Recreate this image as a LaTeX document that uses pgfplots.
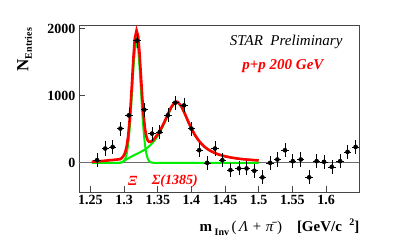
\documentclass[border=0pt]{standalone}
\usepackage{fontspec}
\setmainfont{Liberation Serif}
\usepackage{pgfplots}
\pgfplotsset{compat=1.18}
\definecolor{fitred}{RGB}{255,0,0}
\definecolor{fitgreen}{RGB}{0,238,0}
\definecolor{axgray}{RGB}{70,70,70}

\pgfplotstableread{
x y ex ey
1.2598 40 0.0055 105
1.2720 213 0.0055 105
1.2830 237 0.0055 105
1.2945 510 0.0055 105
1.3070 707 0.0055 105
1.3190 1818 0.0055 105
1.3300 791 0.0055 105
1.3415 436 0.0055 105
1.3530 459 0.0055 105
1.3650 707 0.0055 105
1.3760 895 0.0055 105
1.3890 855 0.0055 105
1.4000 510 0.0055 105
1.4116 188 0.0055 105
1.4235 0 0.0055 105
1.4350 213 0.0055 105
1.4460 40 0.0055 105
1.4580 -108 0.0055 105
1.4705 -83 0.0055 105
1.4820 -83 0.0055 105
1.4935 -118 0.0055 105
1.5055 -216 0.0055 105
1.5170 0 0.0055 105
1.5277 50 0.0055 105
1.5390 188 0.0055 105
1.5506 25 0.0055 105
1.5625 50 0.0055 105
1.5750 -216 0.0055 105
1.5860 25 0.0055 105
1.5970 15 0.0055 105
1.6086 -59 0.0055 105
1.6210 25 0.0055 105
1.6320 163 0.0055 105
1.6440 237 0.0055 105
}\datatable

\pgfplotstableread{
x y
1.252 0
1.290 0
1.295 2
1.298 11
1.300 28
1.302 66
1.304 140
1.306 270
1.308 474
1.310 753
1.312 1087
1.314 1422
1.316 1686
1.3185 1820
1.321 1686
1.323 1422
1.325 1087
1.327 753
1.329 474
1.331 270
1.333 140
1.335 66
1.337 28
1.339 11
1.342 2
1.345 0
1.500 0
}\xitable

\pgfplotstableread{
x y
1.252 0
1.294 0
1.297 12
1.300 30
1.303 48
1.306 65
1.310 88
1.315 115
1.320 139
1.325 164
1.330 192
1.335 227
1.340 272
1.345 328
1.350 399
1.355 488
1.360 593
1.365 709
1.370 816
1.375 887
1.378 900
1.380 894
1.385 835
1.390 731
1.395 615
1.400 507
1.405 415
1.410 341
1.415 282
1.420 235
1.425 198
1.430 169
1.435 145
1.440 126
1.450 97
1.460 77
1.470 62
1.480 51
1.490 43
1.500 36
}\sigtable

\pgfplotstableread{
x y
1.252 15
1.260 22
1.270 30
1.280 40
1.290 50
1.294 54
1.297 75
1.300 118
1.302 168
1.304 253
1.306 393
1.308 608
1.310 897
1.312 1241
1.314 1585
1.316 1859
1.3185 1970
1.321 1880
1.323 1625
1.325 1299
1.327 974
1.329 705
1.331 513
1.333 396
1.335 335
1.337 313
1.339 311
1.342 331
1.345 361
1.350 426
1.355 512
1.360 611
1.365 724
1.370 829
1.375 898
1.378 910
1.380 904
1.385 844
1.390 738
1.395 621
1.400 512
1.405 419
1.410 344
1.415 283
1.420 235
1.425 198
1.430 169
1.435 145
1.440 126
1.450 97
1.460 77
1.470 62
1.480 51
1.490 43
1.500 36
}\totaltable

\begin{document}
\begin{tikzpicture}
\path[use as bounding box] (-79pt,-57pt) rectangle (320pt,192pt);
\begin{axis}[
  at={(0,0)}, anchor=south west,
  scale only axis, width=280pt, height=167pt,
  xmin=1.233, xmax=1.649, ymin=-434, ymax=2052,
  clip=false,
  axis line style={draw=axgray, line width=0.8pt},
  xtick={1.25,1.30,1.35,1.40,1.45,1.50,1.55,1.60},
  xticklabels={1.25,1.3,1.35,1.4,1.45,1.5,1.55,1.6},
  ytick={0,1000,2000},
  yticklabels={0,1000,2000},
  tick align=inside, xtick pos=bottom, ytick pos=left,
  major tick length=6pt,
  tick style={draw=axgray, line width=0.8pt},
  minor tick num=0,
  tick label style={font=\fontsize{14}{14}\selectfont\bfseries},
  /pgf/number format/assume math mode=true,
]
\addplot[axgray!80, line width=0.7pt] coordinates {(1.233,0) (1.649,0)};
\addplot[fitgreen, line width=2pt] table[x=x,y=y] {\xitable};
\addplot[fitgreen, line width=2pt] table[x=x,y=y] {\sigtable};
\addplot[fitred, line width=2.6pt] table[x=x,y=y] {\totaltable};
\addplot[black, line width=0.6pt, only marks, mark=none,
  error bars/.cd, x dir=both, x explicit, y dir=both, y explicit,
  error mark=none, error bar style={black, line width=0.6pt}]
  table[x=x, y=y, x error=ex, y error=ey] {\datatable};

\node[anchor=center, font=\fontsize{15}{15}\selectfont\itshape] at (axis cs:1.5408,1796) {STAR\ \ Preliminary};
\node[anchor=center, text=fitred, font=\fontsize{15}{15}\selectfont\bfseries\itshape] at (axis cs:1.536,1433) {p+p 200 GeV};
\node[anchor=center, text=fitred, font=\fontsize{14}{14}\selectfont\bfseries\itshape] at (axis cs:1.3129,-267) {Ξ};
\node[anchor=west, text=fitred, font=\fontsize{14}{14}\selectfont\bfseries\itshape, inner sep=0pt] at (axis cs:1.3408,-267) {Σ(1385)};

\node[anchor=base east, font=\fontsize{15}{15}\selectfont\bfseries, inner sep=0pt] at (axis cs:1.650,-1027)
  {m\,\raisebox{-0.5ex}{\fontsize{10}{10}\selectfont Inv}\,\textmd{(\,\textit{Λ + π̄})}\quad[GeV/c\,\,\,\raisebox{0.9ex}{\fontsize{10}{10}\selectfont 2}]};
\node[rotate=90, anchor=center, font=\fontsize{17}{17}\selectfont\bfseries] at (axis cs:1.1522,1684)
  {N\raisebox{-0.45ex}{\fontsize{10}{10}\selectfont Entries}};
\end{axis}
\end{tikzpicture}
\end{document}
